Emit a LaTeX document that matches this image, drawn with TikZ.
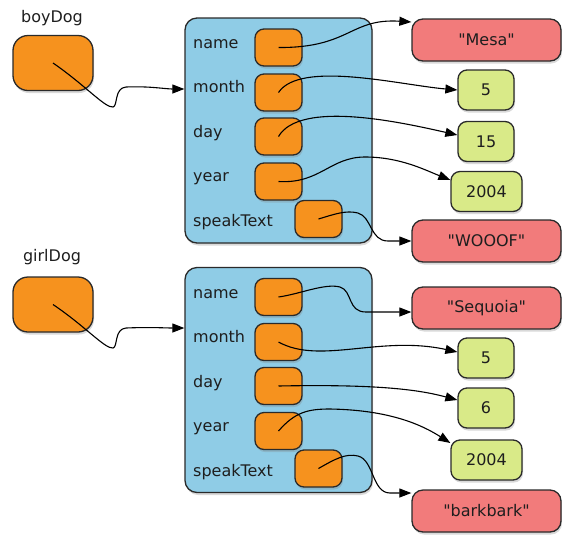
\documentclass[tikz,border=0pt]{standalone}
\usepackage{fontspec}
\setmainfont{DejaVu Sans}[Ligatures=TeXOff]
\usetikzlibrary{arrows.meta,shadows}
\definecolor{refor}{HTML}{F6921E}
\definecolor{objbl}{HTML}{8FCCE6}
\definecolor{strrd}{HTML}{F27B7B}
\definecolor{numgr}{HTML}{D9EA88}
\definecolor{edge}{HTML}{2A2A2A}
\definecolor{txt}{HTML}{1E1E1E}

\begin{document}
\begin{tikzpicture}[x=1pt,y=-1pt,
    font=\fontsize{16}{19}\selectfont,text=txt,
    box/.style={draw=edge,line width=1.3pt,rounded corners=9pt,inner sep=0pt,
        drop shadow={opacity=.3,shadow xshift=1pt,shadow yshift=-2.5pt}},
    ref/.style={box,fill=refor,minimum width=47pt,minimum height=37pt},
    var/.style={box,fill=refor,minimum width=80pt,minimum height=55pt,rounded corners=15pt},
    obj/.style={box,fill=objbl,minimum width=187pt,minimum height=225pt,rounded corners=12pt},
    str/.style={box,fill=strrd,minimum width=149pt,minimum height=42pt,rounded corners=11pt},
    num/.style={box,fill=numgr,minimum width=56pt,minimum height=40pt},
    lab/.style={anchor=base west,inner sep=0pt},
    ptr/.style={line width=1.1pt,-{Triangle[length=12pt,width=9pt]}}]
    \useasboundingbox (0,0) rectangle (562,539);

    \node[anchor=base] (boy) at (52,22) {boyDog};
    \node[var] (B1) at (53,63) {};
    \node[obj] (O1) at (278.5,130.5) {};
    \node[lab] (n1) at (193,48) {name};
    \node[lab] (m1) at (193,92.5) {month};
    \node[lab] (d1) at (193,137) {day};
    \node[lab] (y1) at (193,181.5) {year};
    \node[lab] (s1) at (193,226) {speakText};
    \node[ref] (N1) at (278.5,47.5) {};
    \node[ref] (M1) at (278.5,92.5) {};
    \node[ref] (D1) at (278.5,136.5) {};
    \node[ref] (Y1) at (278.5,181.5) {};
    \node[ref] (S1) at (318.5,219) {};
    \node[str] (VN1) at (486.5,40) {"Mesa"};
    \node[num] (VM1) at (486,90) {5};
    \node[num] (VD1) at (486,141.5) {15};
    \node[num,minimum width=71pt] (VY1) at (486.5,191.5) {2004};
    \node[str] (VS1) at (486.5,241) {"WOOOF"};

    \node[anchor=base] (girl) at (52,261) {girlDog};
    \node[var] (B2) at (53,304.5) {};
    \node[obj] (O2) at (278.5,380) {};
    \node[lab] (n2) at (193,298) {name};
    \node[lab] (m2) at (193,342.5) {month};
    \node[lab] (d2) at (193,387) {day};
    \node[lab] (y2) at (193,431.5) {year};
    \node[lab] (s2) at (193,476) {speakText};
    \node[ref] (N2) at (278.5,297) {};
    \node[ref] (M2) at (278.5,342) {};
    \node[ref] (D2) at (278.5,386) {};
    \node[ref] (Y2) at (278.5,431) {};
    \node[ref] (S2) at (318.5,468.5) {};
    \node[str] (VN2) at (486.5,308) {"Sequoia"};
    \node[num] (VM2) at (486,358) {5};
    \node[num] (VD2) at (486,408) {6};
    \node[num,minimum width=71pt] (VY2) at (486.5,460) {2004};
    \node[str] (VS2) at (486.5,511) {"barkbark"};

    \draw[ptr] (B1.center) .. controls (85,85) and (105,108) .. (113,107)
        .. controls (118,106) and (114,88) .. (126,87)
        .. controls (150,86) and (165,89) .. ([yshift=41.5pt]O1.west);
    \draw[ptr] (N1.center) .. controls (350,48) and (350,18) .. ([yshift=18pt]VN1.west);
    \draw[ptr] (M1.center) .. controls (300,60) and (400,85) .. (VM1.west);
    \draw[ptr] (D1.center) .. controls (300,100) and (400,122) .. ([yshift=6.5pt]VD1.west);
    \draw[ptr] (Y1.center) .. controls (320,184) and (330,157) .. (365,157)
        .. controls (400,157) and (425,170) .. ([yshift=11.5pt]VY1.west);
    \draw[ptr] (S1.center) .. controls (335,214) and (346,210) .. (358,213)
        .. controls (372,217) and (370,241) .. (388,241) -- (VS1.west);

    \draw[ptr] (B2.center) .. controls (85,326) and (105,349) .. (113,348)
        .. controls (118,347) and (114,329) .. (126,328)
        .. controls (150,327) and (165,328) .. ([yshift=52pt]O2.west);
    \draw[ptr] (N2.center) .. controls (300,294) and (325,283) .. (340,287)
        .. controls (353,291) and (347,312) .. (366,312) -- ([yshift=-4pt]VN2.west);
    \draw[ptr] (M2.center) .. controls (320,365) and (380,335) .. ([yshift=6pt]VM2.west);
    \draw[ptr] (D2.center) .. controls (380,384) and (420,390) .. ([yshift=8pt]VD2.west);
    \draw[ptr] (Y2.center) .. controls (295,412) and (308,409) .. (330,409)
        .. controls (390,410) and (422,425) .. ([yshift=17pt]VY2.west);
    \draw[ptr] (S2.center) .. controls (335,459) and (346,453) .. (358,456)
        .. controls (374,460) and (372,493) .. (390,493) -- ([yshift=18pt]VS2.west);
\end{tikzpicture}
\end{document}
